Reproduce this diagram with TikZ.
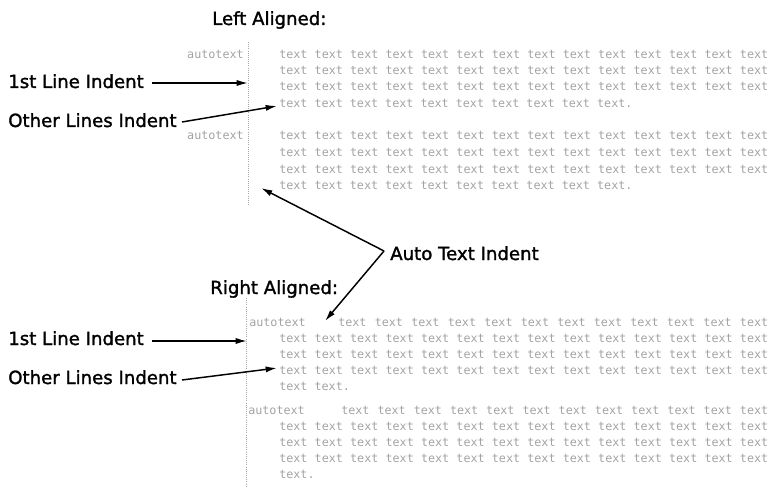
\documentclass[tikz,border=0pt]{standalone}
\usepackage{fontspec}
\setmainfont{DejaVu Sans}
\newfontfamily\lblfont{DejaVu Sans}[FakeBold=1.5]
\newfontfamily\ghostfont{DejaVu Sans Mono}
\usetikzlibrary{arrows.meta}
\newcommand\gwords[2]{\hbox to \dimexpr #1pt*3/4\relax{\foreach \k in {2,...,#2}{text\hfill}text}}
\tikzset{
  lbl/.style={font={\lblfont\fontsize{13.6pt}{16pt}\selectfont}, inner sep=0pt, anchor=base west},
  ghost/.style={font={\ghostfont\fontsize{8.8pt}{10pt}\selectfont}, text=black!36, inner sep=0pt, anchor=west},
  guide/.style={draw=black!35, densely dotted, line width=0.6pt},
  pointer/.style={draw=black, line width=1.1pt, -{Latex[length=8.5pt,width=4.6pt]}},
}
\begin{document}
\begin{tikzpicture}[x=0.75pt,y=-0.75pt]
\useasboundingbox (0,0) rectangle (771,499);
% ---------- Left aligned ----------
\node[lbl] (tl) at (212,25) {Left Aligned:};
\draw[guide] (248,42) coordinate (gl1) -- (248,205) coordinate (gl2);
\node[ghost, anchor=east] (la1) at (244,54) {autotext};
\node[ghost] (l11) at (279,54) {\gwords{489}{14}};
\node[ghost] (l12) at (279,70) {\gwords{489}{14}};
\node[ghost] (l13) at (279,86) {\gwords{489}{14}};
\node[ghost] (l14) at (279,103) {text text text text text text text text text text.};
\node[ghost, anchor=east] (la2) at (244,135) {autotext};
\node[ghost] (l21) at (279,135) {\gwords{489}{14}};
\node[ghost] (l22) at (279,152) {\gwords{489}{14}};
\node[ghost] (l23) at (279,169) {\gwords{489}{14}};
\node[ghost] (l24) at (279,185) {text text text text text text text text text text.};
\node[lbl] (lfirst) at (8,88) {1st Line Indent};
\node[lbl] (lother) at (8,127) {Other Lines Indent};
\coordinate (lfs) at (152,83);
\coordinate (lft) at (248,83);
\coordinate (los) at (182,122);
\coordinate (lot) at (277,106);
\draw[pointer] (lfs) -- (lft);
\draw[pointer] (los) -- (lot);
% ---------- Auto text indent ----------
\node[lbl] (auto) at (390,260) {Auto Text Indent};
\coordinate (av) at (384,251);
\coordinate (at1) at (261,188);
\coordinate (at2) at (325,321);
\draw[pointer] (av) -- (at1);
\draw[pointer] (av) -- (at2);
% ---------- Right aligned ----------
\node[lbl] (tr) at (210,294) {Right Aligned:};
\draw[guide] (246,298) coordinate (gr1) -- (246,487) coordinate (gr2);
\node[ghost] (ra1) at (249,322) {autotext};
\node[ghost] (r11) at (338,322) {\gwords{430}{12}};
\node[ghost] (r12) at (279,338) {\gwords{489}{14}};
\node[ghost] (r13) at (279,354) {\gwords{489}{14}};
\node[ghost] (r14) at (279,370) {\gwords{489}{14}};
\node[ghost] (r15) at (279,386) {text text.};
\node[ghost] (ra2) at (248,410) {autotext};
\node[ghost] (r21) at (341,410) {\gwords{427}{12}};
\node[ghost] (r22) at (279,426) {\gwords{489}{14}};
\node[ghost] (r23) at (279,442) {\gwords{489}{14}};
\node[ghost] (r24) at (279,458) {\gwords{489}{14}};
\node[ghost] (r25) at (279,474) {text.};
\node[lbl] (rfirst) at (8,345) {1st Line Indent};
\node[lbl] (rother) at (8,384) {Other Lines Indent};
\coordinate (rfs) at (152,341);
\coordinate (rft) at (247,341);
\coordinate (ros) at (182,380);
\coordinate (rot) at (277,368);
\draw[pointer] (rfs) -- (rft);
\draw[pointer] (ros) -- (rot);
\end{tikzpicture}
\end{document}
